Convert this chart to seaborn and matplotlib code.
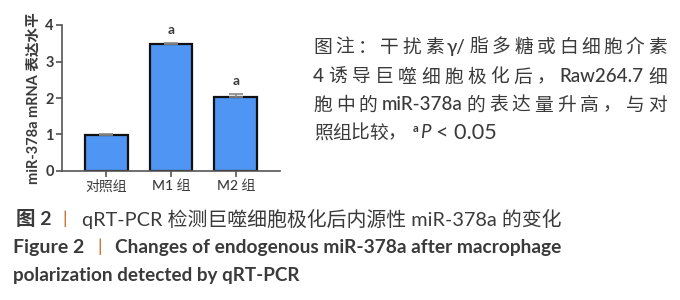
import matplotlib
matplotlib.use("Agg")
import matplotlib.pyplot as plt
import seaborn as sns
import pandas as pd
import numpy as np

categories = ["对照组", "M1 组", "M2 组"]
values = [0.98, 3.47, 2.03]
errors = [0.02, 0.03, 0.07]
sig_marks = ["", "a", "a"]
y_ticks = [0, 1, 2, 3, 4]
y_label = "miR-378a mRNA 表达水平"

note_lines = [
    "图注：干扰素 γ/ 脂多糖或白细胞介素",
    "4 诱导巨噬细胞极化后，Raw264.7 细",
    "胞中的 miR-378a 的表达量升高，与对",
]
note_last = "照组比较，"
note_sig = "a"
note_p = "P"
note_thr = "< 0.05"
caption_cn = ["图 2", "qRT-PCR 检测巨噬细胞极化后内源性 miR-378a 的变化"]
caption_en = ["Figure 2", "Changes of endogenous miR-378a after macrophage",
              "polarization detected by qRT-PCR"]

sns.set_theme(style="white")
FAM = ["Lato", "Noto Sans CJK SC", "DejaVu Sans"]
plt.rcParams["font.family"] = FAM

W, H = 680, 300
df = pd.DataFrame({"group": categories, "value": values})

fig = plt.figure(figsize=(6.8, 3.0), dpi=100)
ax = fig.add_axes([62/W, 1-171/H, (280-62)/W, (171-25)/H])

sns.barplot(data=df, x="group", y="value", ax=ax, color="#4f95f3",
            edgecolor="#111111", linewidth=1.6, width=0.66, errorbar=None,
            saturation=1)
ax.errorbar(x=np.arange(len(values)), y=values, yerr=[np.zeros(3), errors],
            fmt="none", ecolor="#888888", elinewidth=1.2, capsize=5, capthick=1.2)
for i, (v, e, m) in enumerate(zip(values, errors, sig_marks)):
    if m:
        ax.text(i, v + e + 0.2, m, ha="center", va="bottom", fontsize=10,
                fontweight="bold", color="#3a3a3a")

ax.set_xlim(-0.68, 2.68)
ax.set_ylim(0, 4)
ax.set_yticks(y_ticks)
ax.set_yticklabels([str(t) for t in y_ticks], fontsize=10.5, fontweight="bold",
                   color="#3a3a3a")
ax.set_xticks(range(len(categories)))
ax.set_xticklabels(categories, fontsize=10, color="#3a3a3a", fontweight="medium")
ax.set_xlabel("")
ax.set_ylabel(y_label, fontsize=10.5, fontweight="bold", color="#3a3a3a",
              labelpad=3)
for s in ["top", "right"]:
    ax.spines[s].set_visible(False)
for s in ["left", "bottom"]:
    ax.spines[s].set_color("#555555")
    ax.spines[s].set_linewidth(1.2)
ax.tick_params(axis="both", which="major", length=4, width=1.2, color="#555555",
               left=True, bottom=True, pad=2)

renderer = fig.canvas.get_renderer()


def width_px(t):
    return t.get_window_extent(renderer).width


def put(x, y, s, **kw):
    return fig.text(x/W, 1-y/H, s, ha="left", va="center", **kw)


def tokens_of(line):
    toks, buf = [], ""
    for ch in line:
        if ch == " ":
            if buf:
                toks.append(buf)
                buf = ""
        elif ord(ch) < 0x2E80 and ch not in "，：":
            buf += ch
        else:
            if buf:
                toks.append(buf)
                buf = ""
            toks.append(ch)
    if buf:
        toks.append(buf)
    return toks


def justify(line, x0, x1, y, **kw):
    toks = tokens_of(line)
    texts = [put(x0, y, t, **kw) for t in toks]
    widths = [width_px(t) for t in texts]
    gap = (x1 - x0 - sum(widths)) / (len(toks) - 1)
    x = x0
    for t, w in zip(texts, widths):
        t.set_x(x/W)
        x += w + gap


TXT = "#3a3a3a"
note_kw = dict(fontsize=13.5, color=TXT, family=FAM, fontweight="medium")
ys = [47, 77, 105, 133]
for line, y in zip(note_lines, ys):
    justify(line, 313, 667, y, **note_kw)
x = 314
for ch in tokens_of(note_last):
    put(x, ys[3], ch, **note_kw)
    x += 18.3
put(413, ys[3] - 5, note_sig, fontsize=8, fontweight="bold", color=TXT,
    family=FAM)
put(420, ys[3], note_p, fontsize=13.5, style="italic", color=TXT, family=FAM)
fit_t = put(436, ys[3], note_thr, fontsize=13.5, color=TXT, family=FAM)
fit_t.set_fontsize(13.5 * (497 - 436) / width_px(fit_t))


def fit(x0, x1, y, s, base, **kw):
    t = put(x0, y, s, fontsize=base, **kw)
    w = width_px(t)
    t.set_fontsize(base * (x1 - x0) / w)
    return t


bar_color = "#c8641e"
put(16, 219, caption_cn[0], fontsize=14, fontweight="bold", color=TXT,
    family=FAM)
put(62, 219, "|", fontsize=13, color=bar_color, family=FAM)
fit(82, 563, 219, caption_cn[1], 14, color=TXT, family=FAM)

put(13, 247, caption_en[0], fontsize=14, fontweight="bold", color=TXT,
    family=FAM)
put(97, 247, "|", fontsize=13, color=bar_color, family=FAM)
fit(115, 565, 247, caption_en[1], 14, fontweight="bold", color=TXT,
    family=FAM)
fit(13, 301, 275, caption_en[2], 14, fontweight="bold", color=TXT,
    family=FAM)

fig.savefig("out.png", dpi=100, facecolor="white")
